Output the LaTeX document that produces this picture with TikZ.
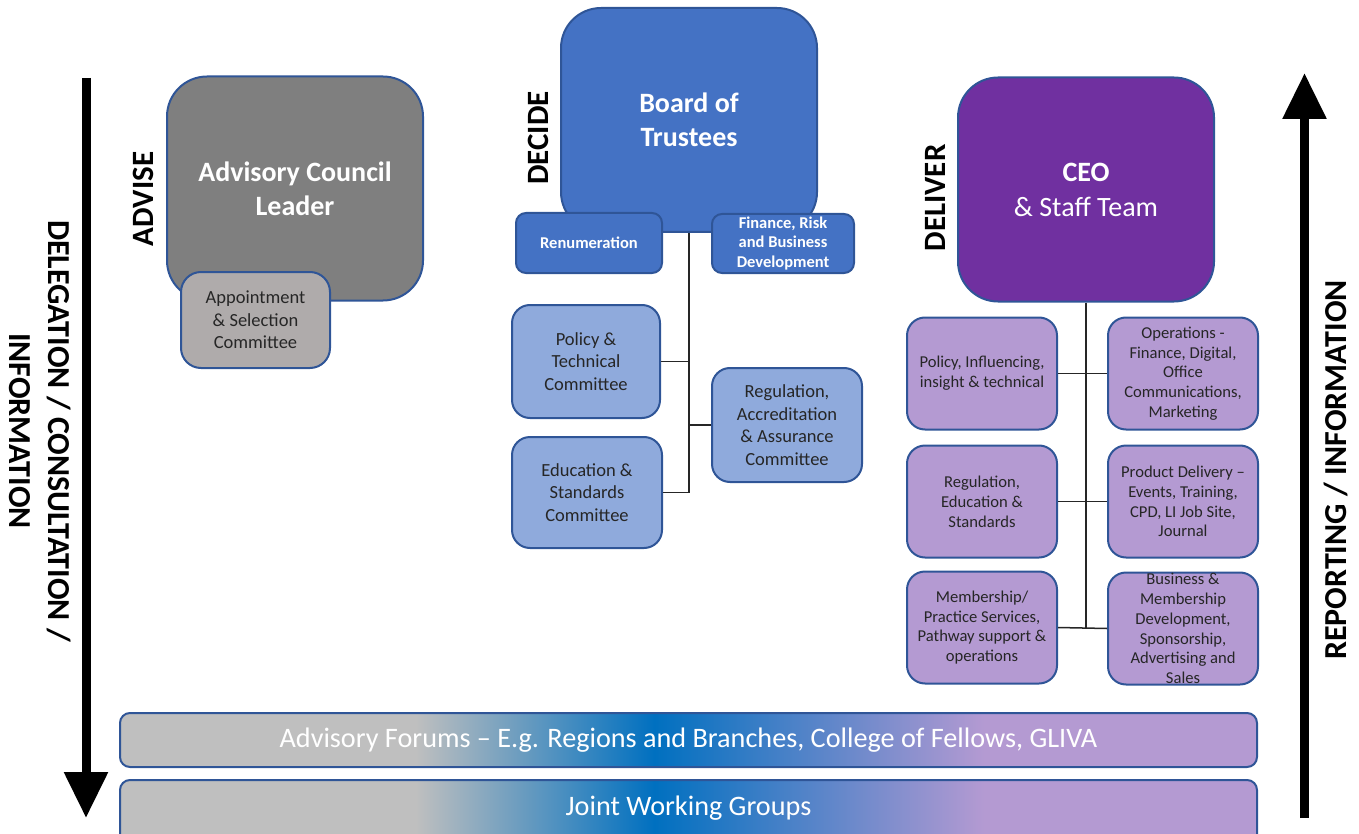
\documentclass[tikz,border=0pt]{standalone}
\usepackage{fontspec}
\setmainfont{Carlito}
\usetikzlibrary{arrows.meta}

\definecolor{edgeblue}{HTML}{2F5597}
\definecolor{advgray}{HTML}{7F7F7F}
\definecolor{apptgray}{HTML}{AFABAB}
\definecolor{boardblue}{HTML}{4472C4}
\definecolor{commblue}{HTML}{8FAADC}
\definecolor{ceopurple}{HTML}{7030A0}
\definecolor{lav}{HTML}{B49AD2}
\definecolor{bandgray}{HTML}{BFBFBF}
\definecolor{bandblue}{HTML}{0070C0}
\definecolor{inkdark}{HTML}{262626}

% grey -> blue -> lavender band (the path box maps to 25bp..75bp)
\pgfdeclarehorizontalshading{bandshade}{100bp}{color(0bp)=(bandgray); color(38bp)=(bandgray); color(48.5bp)=(bandblue); color(63bp)=(lav); color(100bp)=(lav)}

\tikzset{
  box/.style={draw=edgeblue, line width=2pt, align=center, inner sep=0pt, shape=rectangle},
  headbox/.style={box, rounded corners=40pt, minimum width=256pt, minimum height=224pt,
    text=white, font=\fontsize{28}{34}\selectfont\bfseries},
  subbox/.style={box, rounded corners=18pt, minimum width=149pt, minimum height=112pt,
    text=inkdark, font=\fontsize{18.5}{22.5}\selectfont},
  staffbox/.style={box, rounded corners=18pt, minimum width=150pt, minimum height=112pt,
    fill=lav, text=inkdark, font=\fontsize{16.6}{19.8}\selectfont},
  tabbox/.style={box, rounded corners=10pt, fill=boardblue, text=white,
    font=\fontsize{16.5}{19.5}\selectfont\bfseries},
  band/.style={box, rounded corners=10pt, shading=bandshade, minimum width=1137pt,
    text=white, font=\fontsize{28.2}{30}\selectfont},
  role/.style={rotate=90, font=\fontsize{31}{36}\selectfont\bfseries},
  flowtext/.style={align=center, inner sep=1pt, font=\fontsize{32}{39}\selectfont\bfseries},
  link/.style={draw=black!85, line width=1.5pt},
  bigarrow/.style={line width=9pt, -{Triangle[length=46pt, width=42pt]}}
}

\begin{document}
\begin{tikzpicture}[x=1pt, y=-1pt]
\useasboundingbox (0,0) rectangle (1359,834);

% flow arrows down the left and up the right
\coordinate (downtop) at (86,78);
\coordinate (downtip) at (86,818);
\coordinate (upbot) at (1304.5,818);
\coordinate (uptip) at (1304.5,73);
\draw[bigarrow] (downtop) -- (downtip);
\draw[bigarrow] (upbot) -- (uptip);
\node[flowtext, rotate=-90] (downlbl) at (40,431) {DELEGATION / CONSULTATION /\\INFORMATION};
\node[flowtext, rotate=90] (uplbl) at (1336,470) {REPORTING / INFORMATION};

% Advise column
\node[headbox, fill=advgray] (adv) at (295,188.5) {Advisory Council\\Leader};
\node[subbox, fill=apptgray, rounded corners=20pt, minimum width=149pt, minimum height=96pt] (appt) at (255.5,320) {Appointment\\\& Selection\\Committee};
\node[role] (advise) at (143,199) {ADVISE};

% Decide column
\node[headbox, fill=boardblue] (board) at (689,120) {Board of\\Trustees};
\node[tabbox, minimum width=146pt, minimum height=60pt] (renum) at (589,243) {Renumeration};
\node[tabbox, minimum width=142pt, minimum height=59pt] (fin) at (783,243.5) {Finance, Risk\\and Business\\Development};
\node[role] (decide) at (538,138) {DECIDE};

\node[subbox, fill=commblue, minimum width=148pt, minimum height=113pt] (pol) at (586,361.5) {Policy \&\\Technical\\Committee};
\node[subbox, fill=commblue, minimum width=150pt, minimum height=111pt] (edu) at (587,492.5) {Education \&\\Standards\\Committee};
\node[subbox, fill=commblue, minimum width=150pt, minimum height=114pt] (reg) at (787,425) {Regulation,\\Accreditation\\\& Assurance\\Committee};

\draw[link] (board.south) |- (edu.east);
\draw[link] (pol.east) -- (pol.east -| board.south);
\draw[link] (reg.west) -- (reg.west -| board.south);

% Deliver column
\node[headbox, fill=ceopurple, font=\fontsize{28}{35}\selectfont] (ceo) at (1086,189.5) {\textbf{CEO}\\\& Staff Team};
\node[role] (deliver) at (935,198) {DELIVER};

\node[staffbox] (s1) at (982,373.5) {Policy, Influencing,\\insight \& technical};
\node[staffbox] (s2) at (1183,373.5) {Operations -\\Finance, Digital,\\Office\\Communications,\\Marketing};
\node[staffbox] (s3) at (982,501.5) {Regulation,\\Education \&\\Standards};
\node[staffbox] (s4) at (1183,501.5) {Product Delivery --\\Events, Training,\\CPD, LI Job Site,\\Journal};
\node[staffbox] (s5) at (982,627.5) {Membership/\\Practice Services,\\Pathway support \&\\operations};
\node[staffbox] (s6) at (1183,628.5) {Business \&\\Membership\\Development,\\Sponsorship,\\Advertising and\\Sales};

\draw[link] (ceo.south) -- (ceo.south |- s5.east);
\draw[link] (s1.east) -- (s2.west);
\draw[link] (s3.east) -- (s4.west);
\draw[link] (s5.east) -- (s6.west);

% shared bands along the bottom
\node[band, minimum height=54pt] (forums) at (688.5,740) {\raisebox{-2pt}{Advisory Forums -- E.g. Regions and Branches, College of Fellows, GLIVA}};
\node[band, minimum height=64pt] (jwg) at (688.5,812) {};
\node[text=white, font=\fontsize{28.2}{30}\selectfont] (jwglbl) at (688.5,808) {Joint Working Groups};
\end{tikzpicture}
\end{document}
